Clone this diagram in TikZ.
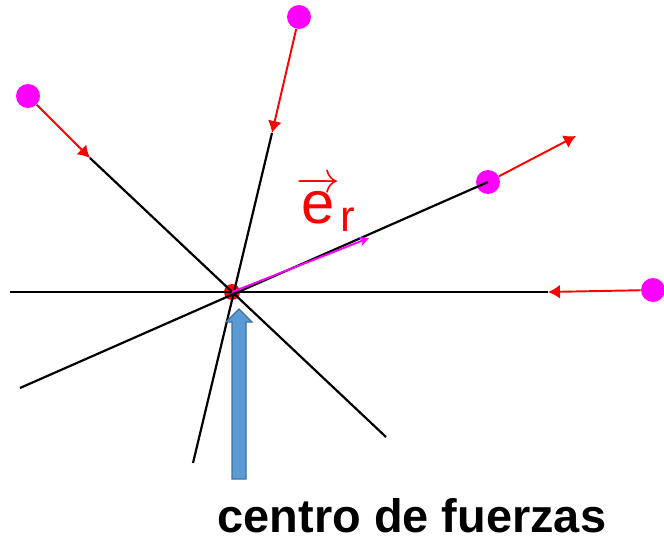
\documentclass[tikz,border=0pt]{standalone}
\usepackage{fontspec}
\setmainfont{Liberation Sans}
\usetikzlibrary{arrows.meta}
\definecolor{fucsia}{RGB}{255,0,255}
\definecolor{azulflecha}{RGB}{91,155,213}
\definecolor{azulborde}{RGB}{65,113,156}

\begin{document}
\begin{tikzpicture}[x=0.02cm,y=-0.02cm,>=Latex,
  recta/.style={draw=black,line width=1.25pt},
  fuerza/.style={draw=red,line width=1.1pt,-{Latex[length=0.24cm,width=0.28cm]}},
  unitario/.style={draw=fucsia,line width=1.1pt,-{Stealth[length=0.2cm,width=0.2cm]}},
  punto/.style={circle,fill=fucsia,minimum size=0.48cm,inner sep=0pt}]
\useasboundingbox (0,0) rectangle (664,541);
\coordinate (o) at (232,292);
\coordinate (a1) at (10,292);
\coordinate (a2) at (548,292);
\coordinate (b1) at (90,158);
\coordinate (b2) at (386,437);
\coordinate (c1) at (272,133);
\coordinate (c2) at (193,463);
\coordinate (d1) at (20,388);
\coordinate (d2) at (576,136);
\coordinate (u) at (369,238);
\fill[red] (o) circle (8);
\node[punto] (p1) at (28,96) {};
\node[punto] (p2) at (299,17) {};
\node[punto] (p3) at (653,290) {};
\node[punto] (p4) at (488,182) {};
\draw[recta] (a1) -- (a2);
\draw[recta] (b1) -- (b2);
\draw[recta] (c1) -- (c2);
\draw[recta] (d1) -- (p4.center);
\draw[fuerza] (p1) -- (b1);
\draw[fuerza] (p2) -- (c1);
\draw[fuerza] (p3) -- (a2);
\draw[fuerza] (p4) -- (d2);
\draw[unitario] (o) -- (u);
\node[text=red,anchor=base west,inner sep=0pt] (er) at (296,223) {\fontsize{34}{36}\selectfont$\overrightarrow{\hbox{e}}_{\hbox{\fontsize{25}{25}\selectfont r}}$};
% flecha azul
\coordinate (f0) at (239,309);
\draw[draw=azulborde,fill=azulflecha,line width=0.8pt] (f0) -- (252,322) -- (246,322) -- (246,479) -- (232,479) -- (232,322) -- (226,322) -- cycle;
\node[font=\bfseries\fontsize{26.7}{30}\selectfont,anchor=base,inner sep=0pt] (centro) at (412,532) {centro de fuerzas};
\end{tikzpicture}
\end{document}
